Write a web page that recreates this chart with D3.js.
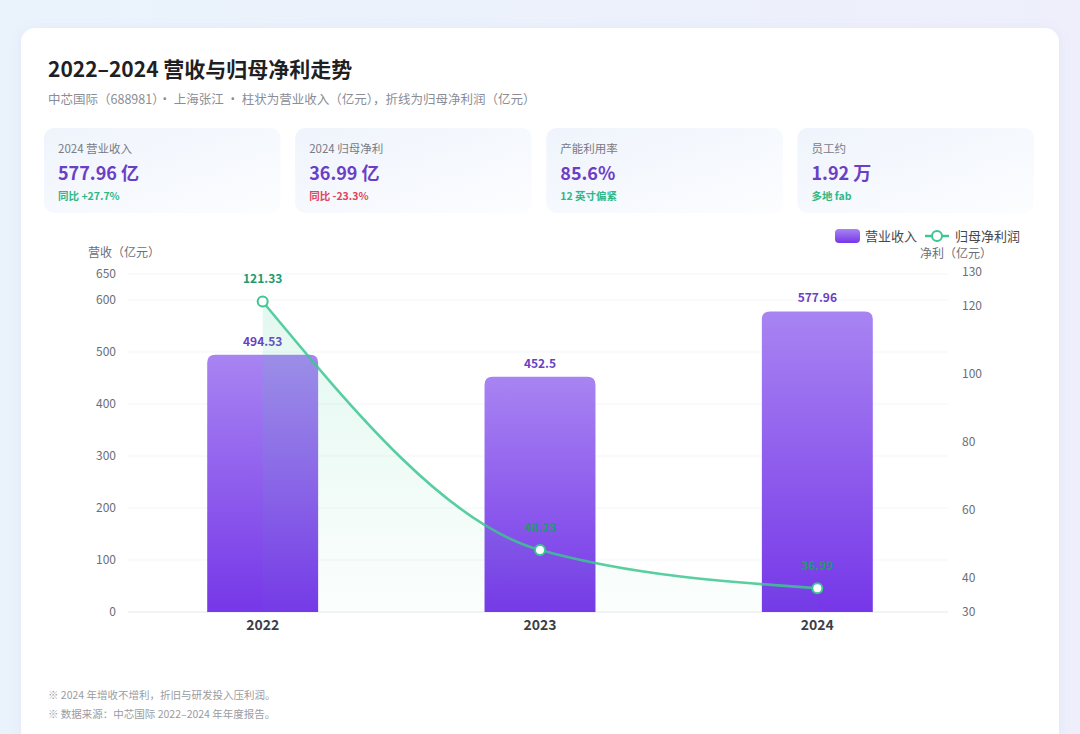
<!DOCTYPE html>
<html>
<head>
<meta charset="utf-8">
<script src="https://cdn.jsdelivr.net/npm/d3@7"></script>
<style>
  html, body { margin: 0; padding: 0; }
  body { width: 1080px; height: 734px; overflow: hidden; background: #eef2fb;
         font-family: "Noto Sans CJK SC", "Noto Sans", sans-serif; }
</style>
</head>
<body>
<div id="chart"></div>
<script>
var years = ["2022", "2023", "2024"];
var revenue = [494.53, 452.5, 577.96];
var netProfit = [121.33, 48.23, 36.99];
var leftTicks = [0, 100, 200, 300, 400, 500, 600, 650];
var rightTicks = [30, 40, 60, 80, 100, 120, 130];

var kpis = [
  { label: "2024 营业收入", value: "577.96 亿", sub: "同比 +27.7%", subColor: "#2fb887" },
  { label: "2024 归母净利", value: "36.99 亿", sub: "同比 -23.3%", subColor: "#e0455a" },
  { label: "产能利用率", value: "85.6%", sub: "12 英寸偏紧", subColor: "#2fb887" },
  { label: "员工约", value: "1.92 万", sub: "多地 fab", subColor: "#2fb887" }
];
var notes = ["※ 2024 年增收不增利，折旧与研发投入压利润。", "※ 数据来源：中芯国际 2022–2024 年年度报告。"];

var width = 1080, height = 734;

var svg = d3.select("#chart").append("svg")
	.attr("width", width)
	.attr("height", height);

var defs = svg.append("defs");

var bgGrad = defs.append("linearGradient").attr("id", "bg").attr("x1", 0).attr("x2", 1).attr("y1", 0).attr("y2", 0);
bgGrad.append("stop").attr("offset", "0%").attr("stop-color", "#eaf3fc");
bgGrad.append("stop").attr("offset", "100%").attr("stop-color", "#eeeffb");

var kpiGrad = defs.append("linearGradient").attr("id", "kpi").attr("x1", 0).attr("x2", 1).attr("y1", 0).attr("y2", 1);
kpiGrad.append("stop").attr("offset", "0%").attr("stop-color", "#eff4fc");
kpiGrad.append("stop").attr("offset", "100%").attr("stop-color", "#fcfdff");

var barGrad = defs.append("linearGradient").attr("id", "bar").attr("x1", 0).attr("x2", 0).attr("y1", 0).attr("y2", 1);
barGrad.append("stop").attr("offset", "0%").attr("stop-color", "#a884f2");
barGrad.append("stop").attr("offset", "100%").attr("stop-color", "#7637e8");

var areaGrad = defs.append("linearGradient").attr("id", "area").attr("x1", 0).attr("x2", 0).attr("y1", 0).attr("y2", 1);
areaGrad.append("stop").attr("offset", "0%").attr("stop-color", "#3fd09a").attr("stop-opacity", 0.15);
areaGrad.append("stop").attr("offset", "100%").attr("stop-color", "#3fd09a").attr("stop-opacity", 0.02);

var shadow = defs.append("filter").attr("id", "shadow").attr("x", "-5%").attr("y", "-5%").attr("width", "110%").attr("height", "110%");
shadow.append("feDropShadow").attr("dx", 0).attr("dy", 2).attr("stdDeviation", 6)
	.attr("flood-color", "#8896c8").attr("flood-opacity", 0.12);

// background + card
svg.append("rect").attr("width", width).attr("height", height).attr("fill", "url(#bg)");
svg.append("rect")
	.attr("x", 21).attr("y", 28).attr("width", 1038).attr("height", 740)
	.attr("rx", 14).attr("fill", "#ffffff").attr("filter", "url(#shadow)");

// title
svg.append("text").attr("x", 48).attr("y", 77)
	.attr("font-size", 21).attr("font-weight", 700).attr("fill", "#1f1f24")
	.text("2022–2024 营收与归母净利走势");
svg.append("text").attr("x", 48).attr("y", 104)
	.attr("font-size", 12.5).attr("fill", "#8a8d96")
	.text("中芯国际（688981）· 上海张江 · 柱状为营业收入（亿元），折线为归母净利润（亿元）");

// kpi cards
var kpiX = d3.scaleBand().domain(d3.range(kpis.length)).range([44, 1034]).paddingInner(0.058);
var cards = svg.selectAll("g.kpi").data(kpis).enter().append("g")
	.attr("class", "kpi")
	.attr("transform", function(d, i){ return "translate(" + kpiX(i) + ",128)"; });
cards.append("rect")
	.attr("width", kpiX.bandwidth()).attr("height", 85).attr("rx", 10)
	.attr("fill", "url(#kpi)");
cards.append("text").attr("x", 14).attr("y", 25)
	.attr("font-size", 11.5).attr("fill", "#777b86")
	.text(function(d){ return d.label; });
cards.append("text").attr("x", 14).attr("y", 52)
	.attr("font-size", 18).attr("font-weight", 700).attr("fill", "#6b3fc4")
	.text(function(d){ return d.value; });
cards.append("text").attr("x", 14).attr("y", 72)
	.attr("font-size", 10.5).attr("font-weight", 600)
	.attr("fill", function(d){ return d.subColor; })
	.text(function(d){ return d.sub; });

// scales
var x = d3.scaleBand().domain(years).range([124, 956]).paddingInner(0.6).paddingOuter(0.3);
var yL = d3.scaleLinear().domain([0, 650]).range([612, 274]);
var yR = d3.scaleLinear().domain([30, 130]).range([612, 272]);

// grid
svg.append("g").selectAll("line").data(leftTicks).enter().append("line")
	.attr("x1", 128).attr("x2", 948)
	.attr("y1", function(d){ return yL(d); }).attr("y2", function(d){ return yL(d); })
	.attr("stroke", function(d){ return d == 0 ? "#e6e8ee" : "#f4f5f8"; })
	.attr("stroke-width", 1);

// axes
var axisL = svg.append("g").attr("transform", "translate(116,0)")
	.call(d3.axisLeft(yL).tickValues(leftTicks).tickSize(0).tickPadding(0));
var axisR = svg.append("g").attr("transform", "translate(962,0)")
	.call(d3.axisRight(yR).tickValues(rightTicks).tickSize(0).tickPadding(0));
[axisL, axisR].forEach(function(a){
	a.select(".domain").remove();
	a.selectAll("text").attr("font-size", 12).attr("fill", "#6b6e78")
		.attr("font-family", "'Noto Sans CJK SC', sans-serif");
});

var axisB = svg.append("g").attr("transform", "translate(0,612)")
	.call(d3.axisBottom(x).tickSize(0).tickPadding(8));
axisB.select(".domain").remove();
axisB.selectAll("text").attr("font-size", 14).attr("font-weight", 700).attr("fill", "#3c3e46")
	.attr("font-family", "'Noto Sans CJK SC', sans-serif");

svg.append("text").attr("x", 88).attr("y", 257)
	.attr("font-size", 12).attr("fill", "#6b6e78").text("营收（亿元）");
svg.append("text").attr("x", 920).attr("y", 258)
	.attr("font-size", 12).attr("fill", "#6b6e78").text("净利（亿元）");

// bars with rounded tops
function barPath(x0, y0, w, h, r){
	return "M" + x0 + "," + (y0 + h) +
		"V" + (y0 + r) +
		"Q" + x0 + "," + y0 + " " + (x0 + r) + "," + y0 +
		"H" + (x0 + w - r) +
		"Q" + (x0 + w) + "," + y0 + " " + (x0 + w) + "," + (y0 + r) +
		"V" + (y0 + h) + "Z";
}
svg.append("g").selectAll("path").data(years).enter().append("path")
	.attr("d", function(d, i){
		return barPath(x(d), yL(revenue[i]), x.bandwidth(), yL(0) - yL(revenue[i]), 8);
	})
	.attr("fill", "url(#bar)");

svg.append("g").selectAll("text").data(years).enter().append("text")
	.attr("x", function(d){ return x(d) + x.bandwidth() / 2; })
	.attr("y", function(d, i){ return yL(revenue[i]) - 9; })
	.attr("text-anchor", "middle")
	.attr("font-size", 12).attr("font-weight", 700).attr("fill", "#6b3fc4")
	.text(function(d, i){ return revenue[i]; });

// net profit line
var cx = function(d, i){ return x(years[i]) + x.bandwidth() / 2; };
var area = d3.area().x(cx).y0(yR(30)).y1(function(d){ return yR(d); }).curve(d3.curveMonotoneX);
var line = d3.line().x(cx).y(function(d){ return yR(d); }).curve(d3.curveMonotoneX);

svg.append("path").datum(netProfit).attr("d", area).attr("fill", "url(#area)");
svg.append("path").datum(netProfit).attr("d", line)
	.attr("fill", "none").attr("stroke", "#3cc691").attr("stroke-width", 2.6)
	.attr("stroke-opacity", 0.85);

svg.append("g").selectAll("circle").data(netProfit).enter().append("circle")
	.attr("cx", cx).attr("cy", function(d){ return yR(d); }).attr("r", 5)
	.attr("fill", "#ffffff").attr("stroke", "#3cc691").attr("stroke-width", 2);

svg.append("g").selectAll("text").data(netProfit).enter().append("text")
	.attr("x", cx)
	.attr("y", function(d){ return yR(d) - 18; })
	.attr("text-anchor", "middle")
	.attr("font-size", 12).attr("font-weight", 700).attr("fill", "#1f9a6e")
	.text(function(d){ return d; });

// legend
var legend = svg.append("g").attr("transform", "translate(835,229)");
legend.append("rect").attr("width", 25).attr("height", 14).attr("rx", 4).attr("fill", "url(#bar)");
legend.append("text").attr("x", 30).attr("y", 12).attr("font-size", 13).attr("fill", "#45474f").text("营业收入");
legend.append("line").attr("x1", 90).attr("x2", 114).attr("y1", 7).attr("y2", 7)
	.attr("stroke", "#3cc691").attr("stroke-width", 2.4);
legend.append("circle").attr("cx", 102).attr("cy", 7).attr("r", 5)
	.attr("fill", "#ffffff").attr("stroke", "#3cc691").attr("stroke-width", 2);
legend.append("text").attr("x", 120).attr("y", 12).attr("font-size", 13).attr("fill", "#45474f").text("归母净利润");

// notes
svg.append("g").selectAll("text").data(notes).enter().append("text")
	.attr("x", 48).attr("y", function(d, i){ return 699 + i * 19; })
	.attr("font-size", 10.5).attr("fill", "#9a9ca4")
	.text(function(d){ return d; });
</script>
</body>
</html>
